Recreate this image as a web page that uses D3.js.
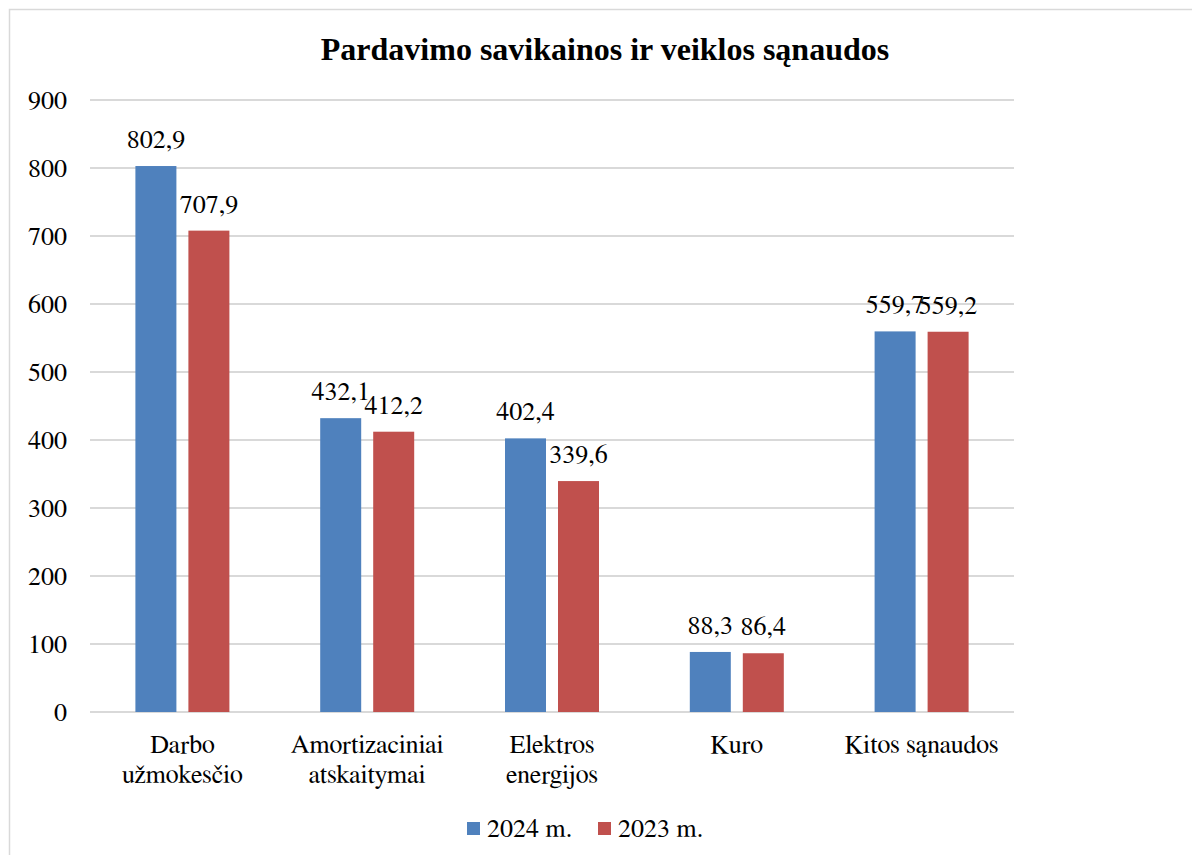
<!DOCTYPE html>
<html>
<head>
<meta charset="UTF-8" />
<title>Pardavimo savikainos ir veiklos sąnaudos</title>
<script src="https://d3js.org/d3.v7.min.js"></script>
<style>
  body { margin: 0; background: #fff; }
  svg { display: block; }
  svg text { font-family: FreeSerif, "Liberation Serif", Tinos, serif; font-size: 26px; fill: #000; }
  svg text.title { font-family: "Liberation Serif", FreeSerif, serif; font-size: 32px; font-weight: bold; }
</style>
</head>
<body>
<svg id="chart" width="1192" height="855"></svg>
<script>
// chart data
const categories = [["Darbo", "užmokesčio"], ["Amortizaciniai", "atskaitymai"], ["Elektros", "energijos"], ["Kuro"], ["Kitos sąnaudos"]];
const seriesNames = ["2024 m.", "2023 m."];
const values2024 = [802.9, 432.1, 402.4, 88.3, 559.7];
const values2023 = [707.9, 412.2, 339.6, 86.4, 559.2];
const yTicks = [0, 100, 200, 300, 400, 500, 600, 700, 800, 900];
const colors = ["#4f81bd", "#c0504d"];

const svg = d3.select("#chart");

// outer frame of the chart
svg.append("rect")
  .attr("x", 9.5).attr("y", 9.5)
  .attr("width", 1200).attr("height", 900)
  .attr("fill", "none").attr("stroke", "#d9d9d9").attr("stroke-width", 1.5);

svg.append("text")
  .attr("class", "title")
  .attr("x", 605).attr("y", 60)
  .attr("text-anchor", "middle")
  .text("Pardavimo savikainos ir veiklos sąnaudos");

const catKeys = categories.map((c) => c.join(" "));
const x0 = d3.scaleBand().domain(catKeys).range([90, 1014]);
const x1 = d3.scaleBand().domain(seriesNames).range([0, x0.bandwidth()])
  .paddingInner(0.2264).paddingOuter(0.8566);
const y = d3.scaleLinear().domain([0, 900]).range([712, 100]);

// gridlines
svg.append("g").selectAll("line")
  .data(yTicks)
  .join("line")
  .attr("x1", 90).attr("x2", 1014)
  .attr("y1", (d) => y(d)).attr("y2", (d) => y(d))
  .attr("stroke", "#d9d9d9").attr("stroke-width", 2);

// y tick labels
svg.append("g").selectAll("text")
  .data(yTicks)
  .join("text")
  .attr("x", 67).attr("y", (d) => y(d) + 8.5)
  .attr("text-anchor", "end")
  .text((d) => d);

const rows = catKeys.map((k, i) => ({
  key: k,
  vals: [
    { s: seriesNames[0], v: values2024[i], c: colors[0] },
    { s: seriesNames[1], v: values2023[i], c: colors[1] },
  ],
}));

const fmt = (v) => v.toFixed(1).replace(".", ",");

const groups = svg.append("g").selectAll("g")
  .data(rows)
  .join("g")
  .attr("transform", (d) => `translate(${x0(d.key)},0)`);

groups.selectAll("rect")
  .data((d) => d.vals)
  .join("rect")
  .attr("x", (d) => x1(d.s))
  .attr("y", (d) => y(d.v))
  .attr("width", x1.bandwidth())
  .attr("height", (d) => y(0) - y(d.v))
  .attr("fill", (d) => d.c);

// value labels above bars
groups.selectAll("text")
  .data((d) => d.vals)
  .join("text")
  .attr("x", (d) => x1(d.s) + x1.bandwidth() / 2)
  .attr("y", (d) => y(d.v) - 18)
  .attr("text-anchor", "middle")
  .text((d) => fmt(d.v));

// category labels (two lines)
const cats = svg.append("g").selectAll("text")
  .data(categories)
  .join("text")
  .attr("text-anchor", "middle")
  .attr("x", (d, i) => x0(catKeys[i]) + x0.bandwidth() / 2)
  .attr("y", 753);
cats.selectAll("tspan")
  .data((d) => d)
  .join("tspan")
  .attr("x", function () { return this.parentNode.getAttribute("x"); })
  .attr("dy", (d, i) => (i === 0 ? 0 : 30))
  .text((d) => d);

// legend
const legend = svg.append("g");
const legX = [467, 598];
seriesNames.forEach((s, i) => {
  legend.append("rect")
    .attr("x", legX[i]).attr("y", 822)
    .attr("width", 13).attr("height", 13)
    .attr("fill", colors[i]);
  legend.append("text")
    .attr("x", legX[i] + 20).attr("y", 837)
    .text(s);
});
</script>
</body>
</html>
